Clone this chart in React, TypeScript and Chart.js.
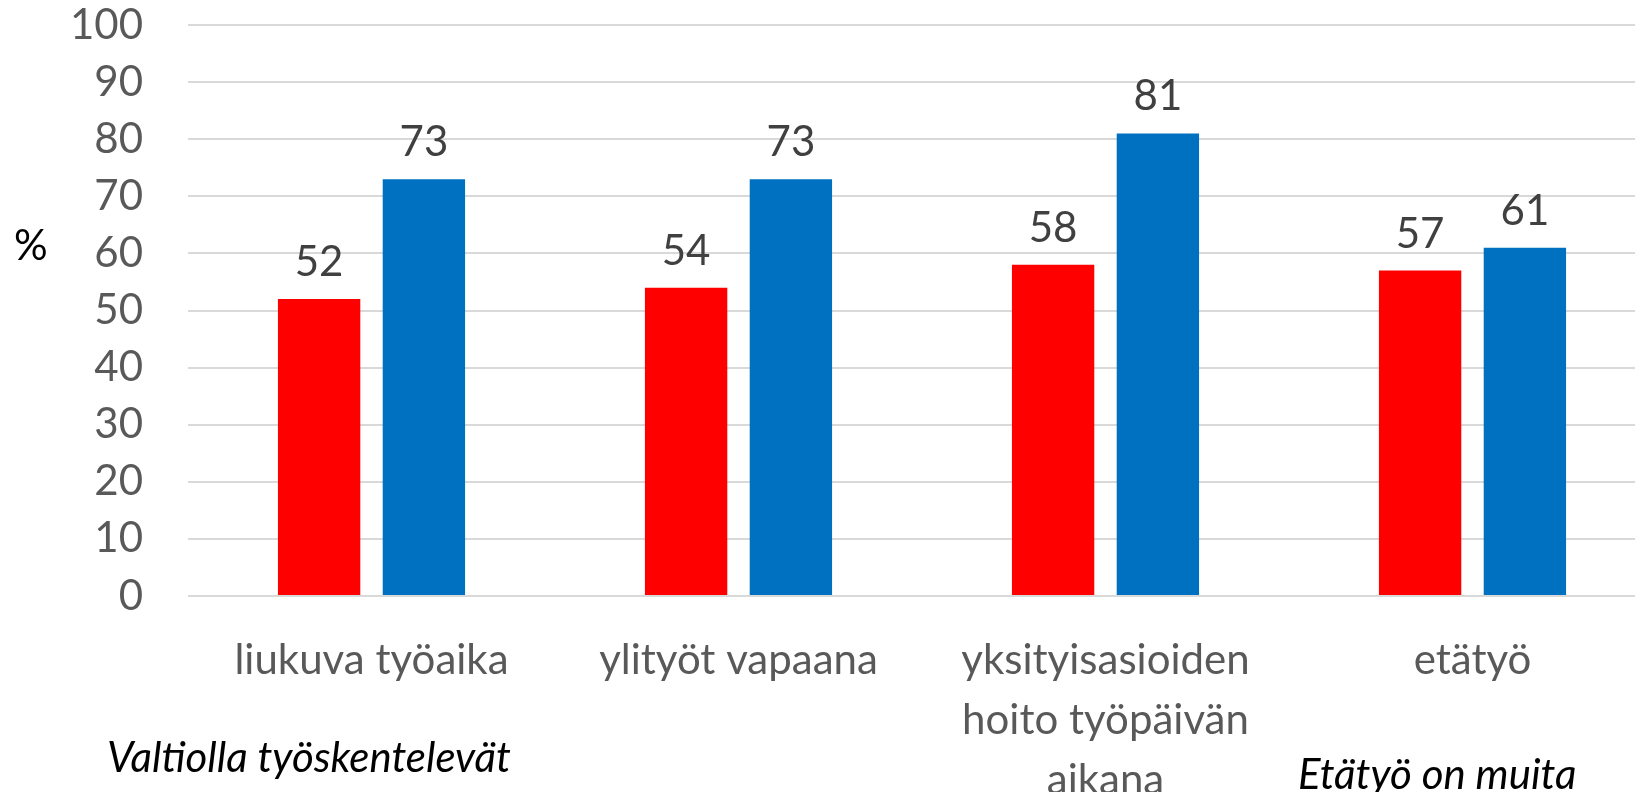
import React, { useEffect, useRef } from "react";
import { Chart, registerables } from "chart.js";

Chart.register(...registerables);

const categories: (string | string[])[] = [
  "liukuva työaika",
  "ylityöt vapaana",
  ["yksityisasioiden", "hoito työpäivän", "aikana"],
  "etätyö",
];
const redValues = [52, 54, 58, 57];
const blueValues = [73, 73, 81, 61];
const yTicks = [0, 10, 20, 30, 40, 50, 60, 70, 80, 90, 100];
const yUnit = "%";
const captionLeft = "Valtiolla työskentelevät";
const captionRight = "Etätyö on muita";

const FONT = "Lato, 'Open Sans', sans-serif";

const valueLabels = {
  id: "valueLabels",
  afterDatasetsDraw(chart: any) {
    const ctx = chart.ctx;
    ctx.save();
    ctx.font = `42px ${FONT}`;
    ctx.fillStyle = "#404040";
    ctx.textAlign = "center";
    ctx.textBaseline = "alphabetic";
    chart.data.datasets.forEach((ds: any, di: number) => {
      const meta = chart.getDatasetMeta(di);
      meta.data.forEach((bar: any, i: number) => {
        ctx.fillText(String(ds.data[i]), bar.x, bar.y - 23);
      });
    });
    ctx.restore();
  },
};

const captions = {
  id: "captions",
  afterDraw(chart: any) {
    const ctx = chart.ctx;
    ctx.save();
    ctx.fillStyle = "#000000";
    ctx.textAlign = "left";
    ctx.textBaseline = "middle";
    ctx.font = `42px ${FONT}`;
    ctx.fillText(yUnit, 14, 246);
    ctx.textBaseline = "alphabetic";
    ctx.font = `italic 42px ${FONT}`;
    ctx.fillText(captionLeft, 107, 772);
    ctx.fillText(captionRight, 1298, 789);
    ctx.restore();
  },
};

export default function App() {
  const ref = useRef<HTMLCanvasElement>(null);
  useEffect(() => {
    if (!ref.current) return;
    const chart = new Chart(ref.current, {
      type: "bar",
      data: {
        labels: categories,
        datasets: [
          {
            data: redValues,
            backgroundColor: "#ff0000",
            categoryPercentage: 0.571,
            barPercentage: 0.786,
          },
          {
            data: blueValues,
            backgroundColor: "#0070c0",
            categoryPercentage: 0.571,
            barPercentage: 0.786,
          },
        ],
      },
      options: {
        animation: false,
        responsive: false,
        devicePixelRatio: 1,
        layout: { padding: { top: 25, right: 0, bottom: 0, left: 0 } },
        plugins: {
          legend: { display: false },
          tooltip: { enabled: false },
        },
        scales: {
          x: {
            grid: { display: false, drawTicks: false },
            border: { display: false },
            ticks: {
              color: "#595959",
              font: { family: FONT, size: 42, lineHeight: 1.43 },
              padding: 34,
              maxRotation: 0,
              autoSkip: false,
            },
            afterFit(scale: any) {
              scale.height = 196;
            },
          },
          y: {
            min: 0,
            max: 100,
            afterBuildTicks(scale: any) {
              scale.ticks = yTicks.map((v) => ({ value: v }));
            },
            grid: { color: "#d9d9d9", lineWidth: 2, drawTicks: false },
            border: { display: false },
            ticks: {
              color: "#595959",
              font: { family: FONT, size: 42, lineHeight: 1.0 },
              padding: 45,
            },
            afterFit(scale: any) {
              scale.width = 188;
              scale.paddingTop = 0;
              scale.paddingBottom = 0;
            },
          },
        },
      },
      plugins: [valueLabels, captions],
    });
    return () => chart.destroy();
  }, []);

  return (
    <div
      style={{
        position: "absolute",
        left: 0,
        top: 0,
        width: 1635,
        height: 792,
        overflow: "hidden",
        background: "#ffffff",
      }}
    >
      <canvas
        ref={ref}
        width={1656}
        height={792}
        style={{ width: 1656, height: 792, display: "block" }}
      />
    </div>
  );
}
